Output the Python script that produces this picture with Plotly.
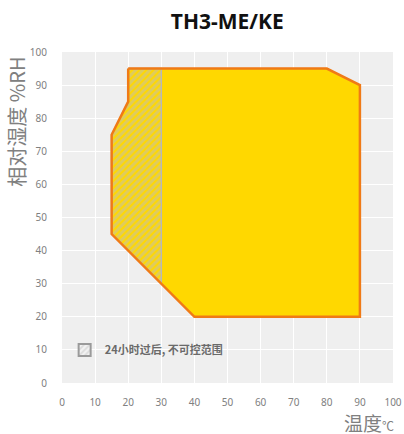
import plotly.graph_objects as go

# Data
range_temp = [20, 80, 90, 90, 40, 15, 15, 20, 20]
range_rh = [95, 95, 90, 20, 20, 45, 75, 85, 95]
hatch_temp = [20, 30, 30, 15, 15, 20, 20]
hatch_rh = [95, 95, 30, 45, 75, 85, 95]
tick_vals = [0, 10, 20, 30, 40, 50, 60, 70, 80, 90, 100]
legend_label = "24小时过后, 不可控范围"

ORANGE = "#f07a16"
YELLOW = "#ffd800"
GRAY = "#bebebe"

fig = go.Figure()
fig.add_trace(go.Scatter(x=range_temp, y=range_rh, mode="lines", fill="toself",
                         fillcolor=YELLOW, line=dict(color=ORANGE, width=0),
                         showlegend=False, hoverinfo="skip"))
fig.add_trace(go.Scatter(x=hatch_temp, y=hatch_rh, mode="lines", fill="toself",
                         fillcolor=YELLOW,
                         fillpattern=dict(shape="/", bgcolor=YELLOW, fgcolor=GRAY,
                                          size=5, solidity=0.6),
                         line=dict(color="#b8b8b8", width=1.5),
                         showlegend=False, hoverinfo="skip"))
fig.add_trace(go.Scatter(x=range_temp, y=range_rh, mode="lines",
                         line=dict(color=ORANGE, width=2.5),
                         showlegend=False, hoverinfo="skip"))
fig.add_trace(go.Bar(x=[None], y=[None], name=legend_label,
                     marker=dict(color="#f2f2f2",
                                 line=dict(color="#9a9a9a", width=2),
                                 pattern=dict(shape="/", bgcolor="#f2f2f2", fgcolor="#c4c4c4",
                                              size=5, solidity=0.45)),
                     showlegend=True))

axis_common = dict(range=[0, 100], tickvals=tick_vals, showgrid=True,
                   gridcolor="white", gridwidth=1.2, zeroline=False,
                   showline=False, ticks="outside", tickcolor="rgba(0,0,0,0)",
                   tickfont=dict(family="Noto Sans", size=10, color="#808080"),
                   layer="above traces", fixedrange=True, automargin=False)

fig.update_layout(
    width=404, height=434,
    margin=dict(l=62, r=11, t=52, b=51, autoexpand=False),
    paper_bgcolor="white", plot_bgcolor="#efefef",
    title=dict(text="<b>TH3-ME/KE</b>", x=0.5625, xanchor="center", y=0.95, yanchor="middle",
               font=dict(family="Noto Sans", size=21, color="#111111")),
    xaxis=dict(**axis_common, ticklen=10),
    yaxis=dict(**axis_common, ticklen=12),
    showlegend=True,
    legend=dict(x=0.008, y=0.1, xanchor="left", yanchor="middle",
                bgcolor="rgba(0,0,0,0)",
                font=dict(family="Noto Sans CJK SC", size=11, color="#6a6a6a", weight="bold"),
                itemwidth=30),
    annotations=[
        dict(text="相对湿度 %RH", textangle=-90, xref="paper", yref="paper",
             x=-0.137, y=0.991, xanchor="center", yanchor="top", showarrow=False,
             font=dict(family="Noto Sans CJK SC", size=20, color="#808080")),
        dict(text="温度<span style='font-size:12px'>℃</span>", xref="paper", yref="paper",
             x=1.01, y=-0.118, xanchor="right", yanchor="middle", showarrow=False,
             font=dict(family="Noto Sans CJK SC", size=19, color="#808080")),
    ],
)

fig.write_html("out.html", config={"displayModeBar": False},
               post_script="document.body.style.margin='0';")
